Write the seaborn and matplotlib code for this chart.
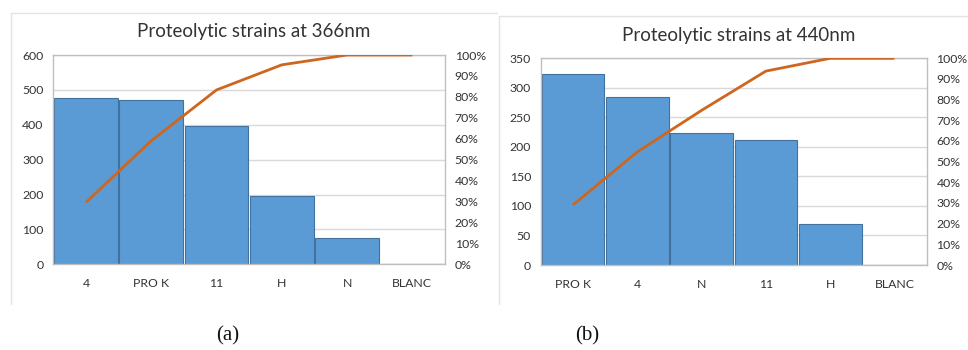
import matplotlib
matplotlib.use('Agg')
import matplotlib.pyplot as plt
import seaborn as sns
from matplotlib.lines import Line2D

# Pareto data
strains_366 = ['4', 'PRO K', '11', 'H', 'N', 'BLANC']
values_366 = [477, 472, 396, 196, 75, 0]
cum_pct_366 = [29.6, 59.0, 83.3, 95.3, 100, 100]

strains_440 = ['PRO K', '4', 'N', '11', 'H', 'BLANC']
values_440 = [323, 284, 224, 212, 70, 0]
cum_pct_440 = [29.0, 54.7, 74.8, 93.8, 100, 100]

sns.set_style("white")
plt.rcParams['font.family'] = ['Lato', 'DejaVu Sans']

BAR_COLOR = '#5B9BD5'
BAR_EDGE = '#41719C'
LINE_COLOR = '#CF661E'
GRID_COLOR = '#D9D9D9'
FRAME_COLOR = '#BFBFBF'
TEXT_COLOR = '#333333'

W, H = 968, 350
fig = plt.figure(figsize=(W / 100, H / 100), dpi=100)


def px_axes(left, top, right, bottom):
    """axes from pixel box (origin top-left)"""
    return fig.add_axes([left / W, 1 - bottom / H, (right - left) / W, (bottom - top) / H])


def pareto(ax, cats, vals, cum, ymax, ystep, title, title_xy):
    sns.barplot(x=cats, y=vals, order=cats, color=BAR_COLOR, saturation=1,
                width=0.975, edgecolor=BAR_EDGE, linewidth=0.8, ax=ax, zorder=2)
    ax.set_xlim(-0.5, len(cats) - 0.5)
    ax.set_ylim(0, ymax)
    ax.set_yticks(range(0, ymax + 1, ystep))
    ax.grid(True, axis='y', color=GRID_COLOR, linewidth=1, zorder=0)
    ax.set_axisbelow(True)
    ax.set_xlabel('')
    ax.set_ylabel('')
    for s in ax.spines.values():
        s.set_visible(True)
        s.set_color(FRAME_COLOR)
        s.set_linewidth(1)
    ax.tick_params(axis='both', length=0, labelsize=8.8, colors=TEXT_COLOR)
    ax.tick_params(axis='y', pad=7)
    ax.tick_params(axis='x', pad=10)

    ax2 = ax.twinx()
    ax2.plot(range(len(cats)), cum, color=LINE_COLOR, linewidth=2.0,
             solid_capstyle='butt', zorder=3)
    ax2.set_ylim(0, 100)
    ax2.set_yticks(range(0, 101, 10))
    ax2.set_yticklabels([f'{t}%' for t in range(0, 101, 10)])
    ax2.tick_params(axis='y', length=0, labelsize=8.8, colors=TEXT_COLOR, pad=7)
    for s in ax2.spines.values():
        s.set_visible(False)

    fig.text(title_xy[0] / W, 1 - title_xy[1] / H, title, ha='center', va='center',
             fontsize=13.5, color=TEXT_COLOR)


ax_a = px_axes(53.3, 55, 445, 264.3)
pareto(ax_a, strains_366, values_366, cum_pct_366, 600, 100,
       'Proteolytic strains at 366nm', (254, 31.5))

ax_b = px_axes(540.7, 58.3, 926.7, 265)
pareto(ax_b, strains_440, values_440, cum_pct_440, 350, 50,
       'Proteolytic strains at 440nm', (739, 35))

# light chart-area borders (left and top edges visible)
def frame_line(x0, y0, x1, y1):
    fig.add_artist(Line2D([x0 / W, x1 / W], [1 - y0 / H, 1 - y1 / H],
                          color='#E3E3E3', linewidth=1, transform=fig.transFigure))

frame_line(10.7, 12.7, 10.7, 304)
frame_line(10.7, 12.7, 497, 12.7)
frame_line(498.5, 16, 498.5, 304)
frame_line(498.5, 16, 968, 16)

# panel captions
fig.text(228 / W, 1 - 336 / H, '(a)', ha='center', va='center', fontsize=15,
         family=['Liberation Serif', 'DejaVu Serif'], color='#111111')
fig.text(587 / W, 1 - 336 / H, '(b)', ha='center', va='center', fontsize=15,
         family=['Liberation Serif', 'DejaVu Serif'], color='#111111')

fig.savefig('out.png', dpi=100)
plt.close(fig)
